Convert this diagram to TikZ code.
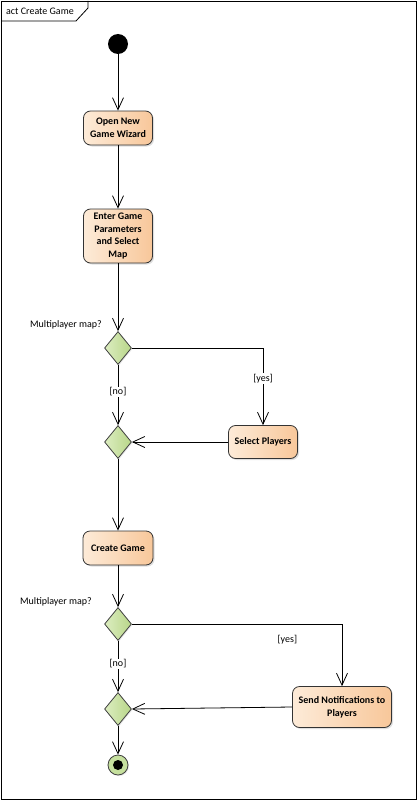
\documentclass[tikz,border=0pt]{standalone}
\usepackage{fontspec}
\setmainfont{Carlito}
\usepackage{tikz}
\usetikzlibrary{arrows.meta}
\usetikzlibrary{shapes.geometric}
\usetikzlibrary{shadows}
\definecolor{actleft}{HTML}{FDEBD8}
\definecolor{actright}{HTML}{F8C79A}
\definecolor{decleft}{HTML}{DCEDC0}
\definecolor{decright}{HTML}{B8D689}
\definecolor{endfill}{HTML}{C6E09E}
\tikzset{flow/.style = {line width=0.8pt, -{Straight Barb[length=12pt, width=11pt]}}}
\tikzset{txt/.style = {font=\fontsize{10}{12.7}\selectfont}}
\tikzset{act/.style = {txt, font=\fontsize{10}{12.7}\selectfont\bfseries, draw=black!80, line width=0.8pt,
                       rectangle, rounded corners=7pt, inner sep=0, align=center,
                       left color=actleft, right color=actright,
                       drop shadow={shadow xshift=1.5pt, shadow yshift=-1.5pt, opacity=0.25}}}
\tikzset{dec/.style = {diamond, draw=black!75, line width=0.8pt, inner sep=0, aspect=0.8,
                       minimum width=27pt, minimum height=33pt,
                       left color=decleft, right color=decright,
                       drop shadow={shadow xshift=1pt, shadow yshift=-1pt, opacity=0.2}}}
\tikzset{lbl/.style = {txt, fill=white, inner sep=1pt}}

\begin{document}
\begin{tikzpicture}[x=1pt, y=-1pt]
      \useasboundingbox (0, 0) rectangle (417, 800);
      % frame
      \draw [line width=0.8pt] (1, 1) rectangle (416, 799);
      \draw [line width=0.8pt] (1, 21) -- (76, 21) -- (88, 8) -- (88, 1);
      \node (title) at (6, 11) [txt, anchor=west, inner sep=0] {act Create Game};

      \node (start) at (118, 44) [circle, fill=black, minimum size=20pt, inner sep=0] {};
      \node (open) at (118, 128) [act, minimum width=69pt, minimum height=34pt] {Open New\\Game Wizard};
      \node (enter) at (118, 236) [act, minimum width=69pt, minimum height=54pt] {Enter Game\\Parameters\\and Select\\Map};
      \node (d1) at (118, 348) [dec] {};
      \node (d2) at (118, 442) [dec] {};
      \node (sel) at (263, 442) [act, minimum width=69pt, minimum height=33pt] {Select Players};
      \node (create) at (118, 548) [act, minimum width=70pt, minimum height=34pt] {Create Game};
      \node (d3) at (118, 624) [dec] {};
      \node (d4) at (118, 709) [dec] {};
      \node (send) at (342, 707) [act, minimum width=99pt, minimum height=41pt] {Send Notifications to\\Players};
      \node (stop) at (118, 765) [circle, draw=black!75, line width=0.8pt, fill=endfill, minimum size=20pt, inner sep=0,
                                  drop shadow={shadow xshift=1pt, shadow yshift=-1pt, opacity=0.2},
                                  path picture={\fill [black] (path picture bounding box.center) circle (5pt);}] {};

      \node (q1) at (102, 325) [txt, anchor=east, inner sep=0] {Multiplayer map?};
      \node (q2) at (92, 602) [txt, anchor=east, inner sep=0] {Multiplayer map?};

      \draw [flow] (start) -- (open);
      \draw [flow] (open) -- (enter);
      \draw [flow] (enter) -- (d1);
      \draw [flow] (d1) -- (d2) node [pos = 0.45, lbl] {[no]};
      \draw [flow] (d1.east) -| (sel.north) node [pos = 0.7, lbl] {[yes]};
      \draw [flow] (sel) -- (d2);
      \draw [flow] (d2) -- (create);
      \draw [flow] (create) -- (d3);
      \draw [flow] (d3) -- (d4) node [pos = 0.45, lbl] {[no]};
      \draw [flow] (d3.east) -| (send.north) node [pos = 0.37, below = 10pt, txt, inner sep=1pt] {[yes]};
      \draw [flow] (send.west) -- (d4.east);
      \draw [flow] (d4) -- (stop);
    \end{tikzpicture}
\end{document}
